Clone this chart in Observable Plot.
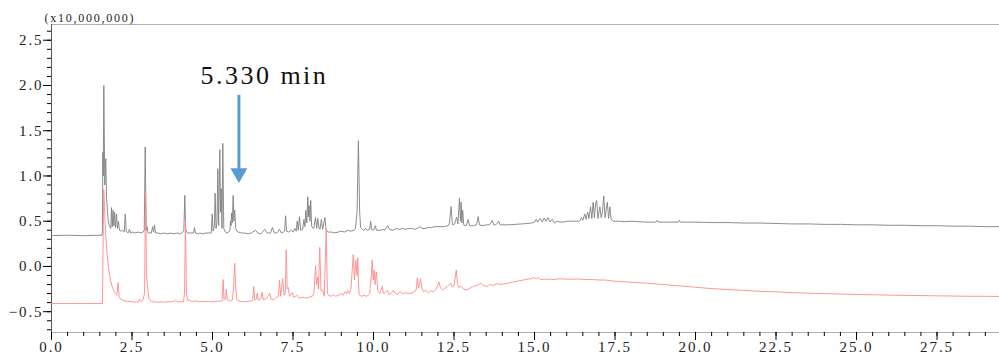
<!DOCTYPE html>
<html>
<head>
<meta charset="utf-8">
<script src="https://cdn.jsdelivr.net/npm/d3@7"></script>
<script src="https://cdn.jsdelivr.net/npm/@observablehq/plot@0.6"></script>
<style>
  html, body { margin: 0; padding: 0; background: #fff; }
  svg { display: block; }
</style>
</head>
<body>
<div id="chart"></div>
<script>
// ---- Data (retention time in min, intensity in units of 10,000,000) ----
const grayTrace = [
  [0, 0.34], [0.5, 0.345], [1.0, 0.34], [1.5, 0.345], [1.57, 0.345], [1.58, 0.36],
  [1.595, 1.26], [1.608, 1.0], [1.625, 2.0], [1.655, 0.9], [1.686, 1.19], [1.71, 0.75],
  [1.74, 0.6], [1.77, 0.48], [1.80, 0.45], [1.84, 0.42], [1.863, 0.65], [1.885, 0.44],
  [1.91, 0.62], [1.935, 0.45], [1.96, 0.6], [1.985, 0.43], [2.02, 0.58], [2.045, 0.42],
  [2.08, 0.5], [2.11, 0.4], [2.16, 0.39], [2.2, 0.4], [2.26, 0.38], [2.29, 0.58],
  [2.32, 0.39], [2.38, 0.37], [2.42, 0.41], [2.46, 0.37], [2.52, 0.38], [2.6, 0.37],
  [2.7, 0.38], [2.78, 0.37], [2.84, 0.38], [2.88, 0.40], [2.91, 1.32], [2.94, 0.4],
  [2.97, 0.44], [3.0, 0.37], [3.1, 0.37], [3.14, 0.44], [3.17, 0.38], [3.2, 0.46],
  [3.23, 0.37], [3.3, 0.37], [3.4, 0.36], [3.5, 0.37], [3.6, 0.36], [3.7, 0.37],
  [3.8, 0.36], [3.9, 0.37], [4.0, 0.36], [4.08, 0.38], [4.11, 0.4], [4.14, 0.785],
  [4.17, 0.4], [4.22, 0.37], [4.3, 0.37], [4.41, 0.37], [4.44, 0.43], [4.47, 0.37],
  [4.55, 0.36], [4.6, 0.37], [4.7, 0.36], [4.8, 0.37], [4.9, 0.37], [4.96, 0.37],
  [4.99, 0.58], [5.02, 0.39], [5.06, 0.45], [5.08, 0.81], [5.11, 0.42], [5.14, 0.5],
  [5.165, 1.08], [5.19, 0.45], [5.227, 1.29], [5.25, 0.6], [5.27, 0.86], [5.295, 0.42],
  [5.32, 1.36], [5.35, 0.42], [5.4, 0.38], [5.45, 0.37], [5.5, 0.38], [5.54, 0.4],
  [5.56, 0.5], [5.575, 0.45], [5.59, 0.59], [5.615, 0.48], [5.64, 0.785], [5.665, 0.5],
  [5.69, 0.62], [5.72, 0.42], [5.76, 0.39], [5.8, 0.38], [5.9, 0.37], [6.0, 0.37],
  [6.1, 0.36], [6.2, 0.37], [6.34, 0.4], [6.4, 0.37], [6.5, 0.36], [6.62, 0.41],
  [6.7, 0.37], [6.8, 0.37], [6.86, 0.43], [6.92, 0.37], [7.0, 0.37], [7.08, 0.41],
  [7.14, 0.37], [7.2, 0.38], [7.24, 0.39], [7.27, 0.56], [7.3, 0.39], [7.36, 0.38],
  [7.45, 0.4], [7.5, 0.38], [7.56, 0.42], [7.6, 0.39], [7.63, 0.5], [7.665, 0.4],
  [7.7, 0.55], [7.74, 0.4], [7.8, 0.41], [7.84, 0.52], [7.87, 0.44], [7.9, 0.62],
  [7.93, 0.48], [7.96, 0.77], [7.98, 0.55], [8.0, 0.675], [8.025, 0.5], [8.05, 0.73],
  [8.08, 0.44], [8.14, 0.42], [8.2, 0.54], [8.235, 0.42], [8.27, 0.53], [8.31, 0.42],
  [8.34, 0.41], [8.38, 0.52], [8.42, 0.41], [8.49, 0.54], [8.53, 0.4], [8.6, 0.38],
  [8.7, 0.38], [8.8, 0.37], [8.9, 0.38], [9.0, 0.39], [9.1, 0.38], [9.2, 0.4],
  [9.3, 0.39], [9.4, 0.4], [9.44, 0.42], [9.49, 0.6], [9.53, 1.39], [9.57, 0.6],
  [9.6, 0.43], [9.65, 0.41], [9.7, 0.4], [9.75, 0.42], [9.8, 0.4], [9.88, 0.41],
  [9.91, 0.5], [9.94, 0.41], [10.0, 0.4], [10.06, 0.45], [10.09, 0.4], [10.2, 0.4],
  [10.3, 0.41], [10.35, 0.4], [10.44, 0.45], [10.5, 0.41], [10.6, 0.4], [10.7, 0.42],
  [10.8, 0.41], [10.9, 0.42], [11.0, 0.41], [11.1, 0.42], [11.2, 0.42], [11.3, 0.41],
  [11.4, 0.43], [11.46, 0.44], [11.5, 0.42], [11.6, 0.42], [11.7, 0.43], [11.8, 0.43],
  [11.9, 0.44], [12.0, 0.44], [12.1, 0.44], [12.2, 0.44], [12.3, 0.45], [12.35, 0.46],
  [12.41, 0.66], [12.45, 0.46], [12.52, 0.47], [12.58, 0.545], [12.62, 0.47], [12.67, 0.755],
  [12.7, 0.5], [12.72, 0.71], [12.745, 0.48], [12.77, 0.62], [12.8, 0.46], [12.88, 0.45],
  [12.94, 0.52], [12.98, 0.45], [13.1, 0.45], [13.2, 0.46], [13.25, 0.55], [13.29, 0.46],
  [13.4, 0.45], [13.5, 0.46], [13.6, 0.46], [13.69, 0.51], [13.73, 0.46], [13.8, 0.46],
  [13.89, 0.5], [13.93, 0.46], [14.0, 0.46], [14.2, 0.46], [14.4, 0.465], [14.6, 0.47],
  [14.8, 0.475], [14.9, 0.48], [15.0, 0.49], [15.05, 0.52], [15.1, 0.49], [15.18, 0.53],
  [15.24, 0.49], [15.3, 0.535], [15.36, 0.5], [15.42, 0.54], [15.48, 0.49], [15.55, 0.52],
  [15.62, 0.48], [15.7, 0.5], [15.8, 0.49], [15.9, 0.49], [16.0, 0.5], [16.1, 0.5],
  [16.2, 0.5], [16.3, 0.5], [16.4, 0.5], [16.46, 0.54], [16.5, 0.51], [16.56, 0.58],
  [16.6, 0.52], [16.65, 0.6], [16.69, 0.53], [16.74, 0.66], [16.78, 0.53], [16.82, 0.71],
  [16.86, 0.54], [16.89, 0.68], [16.93, 0.73], [16.97, 0.53], [17.03, 0.66], [17.07, 0.54],
  [17.11, 0.6], [17.15, 0.78], [17.19, 0.54], [17.22, 0.62], [17.26, 0.71], [17.3, 0.53],
  [17.34, 0.66], [17.38, 0.52], [17.45, 0.5], [17.6, 0.5], [17.8, 0.495], [18.0, 0.5],
  [18.2, 0.495], [18.5, 0.49], [18.78, 0.49], [18.81, 0.51], [18.85, 0.49], [19.2, 0.49],
  [19.47, 0.49], [19.5, 0.51], [19.53, 0.49], [20.0, 0.49], [20.5, 0.485], [21.0, 0.485],
  [21.5, 0.48], [22.0, 0.48], [22.5, 0.475], [23.0, 0.47], [23.5, 0.47], [24.0, 0.465],
  [24.5, 0.465], [25.0, 0.46], [25.5, 0.46], [26.0, 0.455], [26.5, 0.455], [27.0, 0.45],
  [27.5, 0.45], [28.0, 0.445], [28.5, 0.445], [29.0, 0.44], [29.44, 0.44]
];

const redTrace = [
  [0, -0.41], [0.5, -0.41], [1.0, -0.41], [1.5, -0.41], [1.585, -0.41], [1.6, 0.2],
  [1.624, 0.85], [1.65, 0.6], [1.68, 0.36], [1.73, 0.12], [1.78, -0.04], [1.83, -0.15],
  [1.88, -0.22], [1.93, -0.265], [1.98, -0.3], [2.03, -0.32], [2.065, -0.18], [2.1, -0.33],
  [2.14, -0.36], [2.25, -0.38], [2.35, -0.385], [2.5, -0.39], [2.6, -0.395], [2.7, -0.39],
  [2.73, -0.36], [2.77, -0.39], [2.84, -0.37], [2.89, -0.3], [2.92, 0.84], [2.95, -0.1],
  [2.98, -0.22], [3.02, -0.35], [3.1, -0.39], [3.2, -0.39], [3.3, -0.395], [3.4, -0.39],
  [3.5, -0.395], [3.6, -0.39], [3.7, -0.39], [3.8, -0.385], [3.85, -0.37], [3.9, -0.39],
  [4.0, -0.39], [4.1, -0.39], [4.13, -0.3], [4.16, 0.51], [4.19, -0.3], [4.23, -0.38],
  [4.3, -0.37], [4.35, -0.39], [4.45, -0.38], [4.6, -0.39], [4.7, -0.385], [4.8, -0.39],
  [4.9, -0.385], [5.0, -0.39], [5.1, -0.385], [5.2, -0.385], [5.3, -0.38], [5.33, -0.145],
  [5.36, -0.37], [5.4, -0.36], [5.43, -0.25], [5.46, -0.37], [5.55, -0.38], [5.62, -0.37],
  [5.66, -0.2], [5.69, 0.037], [5.72, -0.25], [5.76, -0.37], [5.85, -0.385], [6.0, -0.39],
  [6.1, -0.385], [6.25, -0.38], [6.28, -0.22], [6.31, -0.37], [6.36, -0.36], [6.39, -0.295],
  [6.42, -0.37], [6.5, -0.36], [6.54, -0.285], [6.58, -0.37], [6.65, -0.36], [6.72, -0.33],
  [6.78, -0.295], [6.82, -0.36], [6.9, -0.37], [6.98, -0.34], [7.05, -0.33], [7.08, -0.15],
  [7.12, -0.33], [7.18, -0.135], [7.22, -0.32], [7.26, -0.3], [7.29, 0.185], [7.32, -0.25],
  [7.35, -0.23], [7.39, -0.33], [7.44, -0.31], [7.48, -0.29], [7.52, -0.34], [7.58, -0.33],
  [7.63, -0.32], [7.7, -0.35], [7.8, -0.34], [7.9, -0.35], [8.0, -0.34], [8.1, -0.33],
  [8.15, -0.3], [8.2, 0.01], [8.23, -0.2], [8.26, -0.12], [8.29, -0.25], [8.33, 0.21],
  [8.37, -0.27], [8.42, -0.265], [8.47, -0.33], [8.53, 0.41], [8.57, -0.3], [8.61, -0.32],
  [8.7, -0.33], [8.76, -0.31], [8.82, -0.33], [8.9, -0.32], [9.0, -0.3], [9.05, -0.32],
  [9.12, -0.28], [9.16, -0.3], [9.2, -0.265], [9.25, -0.3], [9.3, -0.25], [9.37, 0.13],
  [9.41, -0.15], [9.45, 0.07], [9.49, -0.1], [9.51, 0.096], [9.55, -0.31], [9.62, -0.33],
  [9.7, -0.32], [9.8, -0.33], [9.88, -0.3], [9.93, -0.1], [9.96, 0.07], [9.99, -0.15],
  [10.02, -0.04], [10.05, -0.2], [10.09, -0.06], [10.13, -0.27], [10.2, -0.3], [10.27, -0.22],
  [10.31, -0.3], [10.37, -0.29], [10.43, -0.265], [10.48, -0.31], [10.55, -0.3], [10.62, -0.265],
  [10.68, -0.3], [10.75, -0.31], [10.82, -0.28], [10.9, -0.3], [11.0, -0.29], [11.1, -0.3],
  [11.2, -0.29], [11.3, -0.27], [11.33, -0.25], [11.36, -0.125], [11.4, -0.24], [11.46, -0.135],
  [11.5, -0.24], [11.56, -0.28], [11.62, -0.26], [11.7, -0.29], [11.78, -0.27], [11.85, -0.28],
  [11.95, -0.25], [12.03, -0.17], [12.08, -0.24], [12.15, -0.26], [12.22, -0.24], [12.3, -0.22],
  [12.39, -0.185], [12.44, -0.23], [12.5, -0.21], [12.57, -0.04], [12.61, -0.2], [12.65, -0.23],
  [12.72, -0.22], [12.8, -0.25], [12.91, -0.26], [13.0, -0.24], [13.1, -0.22], [13.2, -0.21],
  [13.28, -0.2], [13.32, -0.18], [13.4, -0.21], [13.53, -0.22], [13.6, -0.2], [13.7, -0.21],
  [13.84, -0.19], [13.95, -0.2], [14.1, -0.19], [14.25, -0.18], [14.36, -0.17], [14.5, -0.16],
  [14.65, -0.15], [14.8, -0.14], [14.9, -0.135], [15.0, -0.12], [15.05, -0.14], [15.1, -0.125],
  [15.2, -0.145], [15.3, -0.14], [15.4, -0.145], [15.5, -0.14], [15.6, -0.145], [15.7, -0.14],
  [15.8, -0.135], [15.9, -0.14], [16.0, -0.14], [16.2, -0.14], [16.4, -0.14], [16.6, -0.145],
  [16.8, -0.145], [17.0, -0.15], [17.2, -0.15], [17.4, -0.16], [17.6, -0.165], [17.8, -0.17],
  [18.0, -0.175], [18.5, -0.185], [19.0, -0.2], [19.5, -0.215], [20.0, -0.23], [20.5, -0.245],
  [21.0, -0.255], [21.5, -0.265], [22.0, -0.275], [22.5, -0.28], [23.0, -0.29], [23.5, -0.295],
  [24.0, -0.3], [24.5, -0.305], [25.0, -0.31], [25.5, -0.313], [26.0, -0.317], [26.5, -0.32],
  [27.0, -0.322], [27.5, -0.325], [28.0, -0.327], [28.5, -0.33], [29.0, -0.33], [29.44, -0.332]
];

// Axis ticks
const xMajorTicks = [0, 2.5, 5, 7.5, 10, 12.5, 15, 17.5, 20, 22.5, 25, 27.5];
const xMinorTicks = d3.range(0, 29.01, 0.5);
const yMajorTicks = [-0.5, 0, 0.5, 1.0, 1.5, 2.0, 2.5];
const yMinorTicks = d3.range(-7, 27).map(d => d / 10);
const xDomain = [0, 29.44];
const yDomain = [-0.73, 2.674];
const unitLabel = ["(x10,000,000)"];

// Annotation
const annotationLabel = ["5.330 min"];
const annotationAt = [{t: 6.61, v: 2.02}];
const arrowAt = [{t: 5.82, top: 1.89, bottom: 1.0, head: 1.03}];

const fmt = d3.format(".1f");

const chart = Plot.plot({
  width: 999,
  height: 356,
  marginLeft: 51,
  marginRight: 0,
  marginTop: 24,
  marginBottom: 24,
  style: {fontFamily: "Liberation Serif, DejaVu Serif, serif", fontSize: "15px", background: "#fff", color: "#000"},
  x: {domain: xDomain, label: null},
  y: {domain: yDomain, label: null},
  marks: [
    // frame lines
    Plot.ruleY([yDomain[1]], {stroke: "#b0b0b0", strokeWidth: 1}),
    Plot.ruleY([yDomain[0]], {stroke: "#b0b0b0", strokeWidth: 1}),
    Plot.ruleX([xDomain[0]], {stroke: "#555", strokeWidth: 1}),
    // minor ticks
    Plot.axisX(xMinorTicks, {tickSize: 4, tickFormat: () => "", stroke: "#000", label: null}),
    Plot.axisY(yMinorTicks, {tickSize: 4, tickFormat: () => "", stroke: "#000", label: null}),
    // major ticks with labels
    Plot.axisX(xMajorTicks, {tickSize: 8, tickPadding: 1, tickFormat: fmt, stroke: "#000", fill: "#222", label: null}),
    Plot.axisY(yMajorTicks, {tickSize: 8, tickPadding: 0, tickFormat: fmt, stroke: "#000", fill: "#222", label: null}),
    // traces
    Plot.line(grayTrace, {x: d => d[0], y: d => d[1], stroke: "#808080", strokeWidth: 0.9}),
    Plot.line(redTrace, {x: d => d[0], y: d => d[1], stroke: "#ff8a8a", strokeWidth: 0.9}),
    // unit label
    Plot.text(unitLabel, {frameAnchor: "top-left", dx: -7, dy: -3, text: d => d, textAnchor: "start", lineAnchor: "bottom", fontSize: 12, fill: "#222"}),
    // arrow
    Plot.ruleX(arrowAt, {x: "t", y1: "top", y2: "bottom", stroke: "#5b9bd5", strokeWidth: 3}),
    Plot.dot(arrowAt, {x: "t", y: "head", symbol: "triangle", rotate: 180, r: 6.3, fill: "#5b9bd5", stroke: null}),
    // annotation text
    Plot.text(annotationAt, {x: "t", y: "v", text: () => annotationLabel[0], textAnchor: "middle", lineAnchor: "bottom", fontSize: 26, fill: "#111"})
  ]
});

document.getElementById("chart").appendChild(chart);

// letter spacing to mimic the original monospaced CJK serif face
d3.select(chart).selectAll("text").each(function() {
  const t = this.textContent;
  if (t === annotationLabel[0]) this.setAttribute("letter-spacing", "2.5px");
  else if (t === unitLabel[0]) this.setAttribute("letter-spacing", "1.75px");
  else if (/^[\u2212\-]?\d+\.\d$/.test(t)) this.setAttribute("letter-spacing", "1.9px");
});
</script>
</body>
</html>
